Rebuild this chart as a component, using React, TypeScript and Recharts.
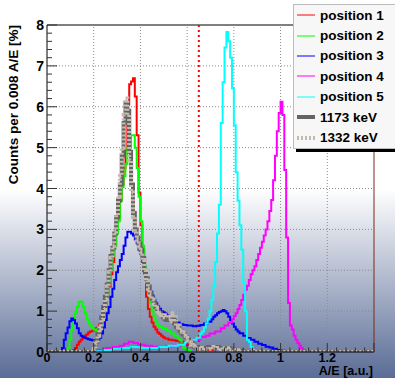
import { LineChart, Line, XAxis, YAxis, ReferenceLine } from 'recharts'

// each entry: [left edge of the A/E bin, counts per 0.008 A/E in %]
type Bin = [number, number]

const pos1: Bin[] = [
  [0, 0], [0.112, 0.05], [0.12, 0.1], [0.128, 0.18], [0.136, 0.25], [0.144, 0.3], [0.152, 0.35],
  [0.16, 0.4], [0.168, 0.43], [0.176, 0.48], [0.184, 0.5], [0.192, 0.52], [0.2, 0.55], [0.208, 0.58],
  [0.216, 0.6], [0.224, 0.68], [0.232, 0.78], [0.24, 0.95], [0.248, 1.1], [0.256, 1.3], [0.264, 1.6],
  [0.272, 1.9], [0.28, 2.2], [0.288, 2.6], [0.296, 3.0], [0.304, 3.3], [0.312, 3.7], [0.32, 4.1],
  [0.328, 4.5], [0.336, 4.95], [0.344, 6.05], [0.352, 6.55], [0.36, 6.62], [0.368, 6.7], [0.376, 6.25],
  [0.384, 5.3], [0.392, 3.9], [0.4, 3.1], [0.408, 2.5], [0.416, 1.92], [0.424, 1.35], [0.432, 1.05],
  [0.44, 0.86], [0.448, 0.72], [0.456, 0.62], [0.464, 0.55], [0.472, 0.48], [0.48, 0.44], [0.488, 0.4],
  [0.496, 0.36], [0.504, 0.33], [0.52, 0.3], [0.536, 0.29], [0.552, 0.27], [0.568, 0.25], [0.584, 0.2],
  [0.6, 0.17], [0.616, 0.15], [0.632, 0.13], [0.648, 0.11], [0.664, 0.09], [0.68, 0.07], [0.696, 0.04],
  [0.712, 0], [1.4, 0],
]

const pos2: Bin[] = [
  [0, 0], [0.088, 0.1], [0.096, 0.3], [0.104, 0.55], [0.112, 0.75], [0.12, 0.95], [0.128, 1.1],
  [0.136, 1.23], [0.144, 1.23], [0.152, 1.1], [0.16, 0.95], [0.168, 0.8], [0.176, 0.7], [0.184, 0.64],
  [0.192, 0.58], [0.2, 0.55], [0.208, 0.53], [0.216, 0.56], [0.224, 0.62], [0.232, 0.72], [0.24, 0.85],
  [0.248, 1.05], [0.256, 1.35], [0.264, 1.7], [0.272, 2.0], [0.28, 2.35], [0.288, 2.6], [0.296, 2.9],
  [0.304, 3.2], [0.312, 3.7], [0.32, 4.03], [0.328, 4.3], [0.336, 4.6], [0.344, 5.0], [0.352, 5.0],
  [0.36, 5.3], [0.368, 5.3], [0.376, 5.0], [0.384, 4.5], [0.392, 3.8], [0.4, 3.2], [0.408, 2.6],
  [0.416, 2.1], [0.424, 1.7], [0.432, 1.45], [0.44, 1.2], [0.448, 1.0], [0.456, 0.86], [0.464, 0.75],
  [0.472, 0.66], [0.48, 0.62], [0.496, 0.56], [0.512, 0.52], [0.528, 0.45], [0.544, 0.4], [0.56, 0.33],
  [0.568, 0.29], [0.576, 0.2], [0.584, 0.1], [0.6, 0.05], [0.616, 0], [1.4, 0],
]

const pos3: Bin[] = [
  [0, 0], [0.064, 0.1], [0.072, 0.3], [0.08, 0.46], [0.088, 0.6], [0.096, 0.75], [0.104, 0.82],
  [0.112, 0.78], [0.12, 0.7], [0.128, 0.58], [0.136, 0.46], [0.144, 0.4], [0.152, 0.37], [0.16, 0.35],
  [0.168, 0.33], [0.176, 0.31], [0.184, 0.3], [0.192, 0.29], [0.216, 0.3], [0.224, 0.35], [0.232, 0.45],
  [0.24, 0.6], [0.248, 0.78], [0.256, 0.95], [0.264, 1.1], [0.272, 1.35], [0.28, 1.55], [0.288, 1.76],
  [0.296, 1.95], [0.304, 2.1], [0.312, 2.25], [0.32, 2.4], [0.328, 2.6], [0.336, 2.8], [0.344, 2.94],
  [0.352, 2.94], [0.36, 2.9], [0.368, 2.85], [0.376, 2.75], [0.384, 2.66], [0.392, 2.5], [0.4, 2.4],
  [0.408, 2.2], [0.416, 2.0], [0.424, 1.8], [0.432, 1.6], [0.44, 1.48], [0.448, 1.38], [0.456, 1.27],
  [0.464, 1.19], [0.472, 1.12], [0.48, 1.06], [0.488, 1.0], [0.496, 0.97], [0.504, 0.94], [0.512, 0.9],
  [0.52, 0.86], [0.528, 0.82], [0.536, 0.78], [0.552, 0.72], [0.568, 0.68], [0.584, 0.66], [0.6, 0.65],
  [0.624, 0.63], [0.64, 0.64], [0.656, 0.66], [0.672, 0.7], [0.688, 0.74], [0.704, 0.8], [0.712, 0.86],
  [0.72, 0.9], [0.728, 0.95], [0.736, 0.98], [0.744, 1.0], [0.752, 1.03], [0.76, 1.0], [0.768, 0.95],
  [0.776, 0.86], [0.784, 0.78], [0.792, 0.7], [0.8, 0.62], [0.808, 0.55], [0.816, 0.5], [0.824, 0.46],
  [0.84, 0.4], [0.856, 0.34], [0.872, 0.3], [0.888, 0.25], [0.904, 0.2], [0.92, 0.17], [0.936, 0.13],
  [0.952, 0.11], [0.968, 0.08], [0.984, 0.05], [1.0, 0.03], [1.016, 0], [1.4, 0],
]

const pos4: Bin[] = [
  [0, 0], [0.2, 0.02], [0.22, 0.05], [0.25, 0.1], [0.28, 0.12], [0.31, 0.15], [0.33, 0.2], [0.35, 0.25],
  [0.37, 0.22], [0.39, 0.18], [0.42, 0.15], [0.45, 0.13], [0.48, 0.12], [0.51, 0.14], [0.54, 0.16],
  [0.57, 0.2], [0.6, 0.25], [0.63, 0.3], [0.656, 0.37], [0.68, 0.4], [0.696, 0.45], [0.72, 0.5],
  [0.744, 0.58], [0.76, 0.65], [0.776, 0.72], [0.792, 0.8], [0.8, 0.88], [0.808, 0.95], [0.816, 1.05],
  [0.824, 1.15], [0.832, 1.27], [0.84, 1.4], [0.848, 1.52], [0.856, 1.62], [0.864, 1.76], [0.872, 1.9],
  [0.88, 2.0], [0.888, 2.1], [0.896, 2.25], [0.904, 2.4], [0.912, 2.55], [0.92, 2.7], [0.928, 2.85],
  [0.936, 3.0], [0.944, 3.2], [0.952, 3.45], [0.96, 3.72], [0.968, 4.2], [0.976, 4.8], [0.984, 5.4],
  [0.992, 5.85], [1.0, 6.12], [1.008, 5.8], [1.016, 4.45], [1.024, 2.8], [1.032, 1.2], [1.04, 0.65],
  [1.048, 0.55], [1.056, 0.4], [1.064, 0.3], [1.072, 0.22], [1.08, 0.15], [1.088, 0.1], [1.096, 0.05],
  [1.104, 0], [1.4, 0],
]

const pos5: Bin[] = [
  [0, 0], [0.2, 0.02], [0.24, 0.05], [0.28, 0.08], [0.32, 0.1], [0.36, 0.12], [0.4, 0.1], [0.44, 0.1],
  [0.48, 0.12], [0.52, 0.15], [0.56, 0.18], [0.59, 0.22], [0.62, 0.3], [0.64, 0.35], [0.656, 0.45],
  [0.664, 0.5], [0.672, 0.6], [0.68, 0.7], [0.688, 0.82], [0.696, 1.0], [0.704, 1.27], [0.712, 1.6],
  [0.72, 2.2], [0.728, 2.9], [0.736, 3.6], [0.744, 5.6], [0.752, 6.6], [0.76, 7.45], [0.768, 7.83],
  [0.776, 7.6], [0.784, 7.2], [0.792, 6.45], [0.8, 5.55], [0.808, 4.4], [0.816, 3.7], [0.824, 3.1],
  [0.832, 2.5], [0.84, 1.7], [0.848, 1.0], [0.856, 0.3], [0.864, 0.25], [0.872, 0.12], [0.88, 0.05],
  [0.888, 0], [1.4, 0],
]

const kev1173: Bin[] = [
  [0, 0], [0.2, 0.1], [0.208, 0.25], [0.216, 0.45], [0.224, 0.6], [0.232, 0.85], [0.24, 1.1],
  [0.248, 1.35], [0.256, 1.65], [0.264, 2.0], [0.272, 2.35], [0.28, 2.55], [0.288, 2.9], [0.296, 3.3],
  [0.304, 3.7], [0.312, 4.1], [0.32, 4.8], [0.328, 5.6], [0.336, 6.1], [0.344, 5.9], [0.352, 4.9],
  [0.36, 4.1], [0.368, 3.4], [0.376, 3.0], [0.384, 2.8], [0.392, 2.65], [0.4, 2.5], [0.408, 2.3],
  [0.416, 2.0], [0.424, 1.8], [0.432, 1.6], [0.44, 1.45], [0.448, 1.3], [0.456, 1.2], [0.464, 1.1],
  [0.472, 1.0], [0.48, 0.95], [0.488, 0.9], [0.496, 0.85], [0.504, 0.8], [0.512, 0.78], [0.52, 0.8],
  [0.528, 0.85], [0.536, 0.8], [0.544, 0.7], [0.552, 0.62], [0.56, 0.58], [0.568, 0.52], [0.576, 0.46],
  [0.584, 0.42], [0.592, 0.36], [0.6, 0.3], [0.608, 0.25], [0.616, 0.2], [0.624, 0.15], [0.632, 0.12],
  [0.64, 0.1], [0.656, 0.08], [0.672, 0.1], [0.688, 0.12], [0.704, 0.1], [0.72, 0.12], [0.736, 0.1],
  [0.752, 0.08], [0.768, 0.1], [0.784, 0.07], [0.8, 0.05], [0.82, 0.03], [0.84, 0], [1.4, 0],
]

const kev1332: Bin[] = [
  [0, 0], [0.2, 0.08], [0.208, 0.2], [0.216, 0.4], [0.224, 0.58], [0.232, 0.8], [0.24, 1.05],
  [0.248, 1.3], [0.256, 1.6], [0.264, 1.95], [0.272, 2.3], [0.28, 2.6], [0.288, 2.95], [0.296, 3.35],
  [0.304, 3.8], [0.312, 4.3], [0.32, 5.0], [0.328, 5.8], [0.336, 6.2], [0.344, 5.8], [0.352, 4.7],
  [0.36, 3.9], [0.368, 3.3], [0.376, 2.95], [0.384, 2.75], [0.392, 2.6], [0.4, 2.45], [0.408, 2.25],
  [0.416, 2.0], [0.424, 1.75], [0.432, 1.55], [0.44, 1.4], [0.448, 1.28], [0.456, 1.18], [0.464, 1.08],
  [0.472, 1.0], [0.48, 0.95], [0.488, 0.9], [0.496, 0.88], [0.504, 0.85], [0.512, 0.9], [0.52, 0.8],
  [0.528, 0.95], [0.536, 0.75], [0.544, 0.9], [0.552, 0.6], [0.56, 0.65], [0.568, 0.5], [0.576, 0.48],
  [0.584, 0.4], [0.592, 0.35], [0.6, 0.28], [0.608, 0.24], [0.616, 0.18], [0.624, 0.14], [0.632, 0.1],
  [0.648, 0.08], [0.664, 0.1], [0.68, 0.08], [0.696, 0.12], [0.712, 0.08], [0.728, 0.1], [0.744, 0.07],
  [0.76, 0.09], [0.776, 0.05], [0.8, 0.04], [0.82, 0], [1.4, 0],
]

const xMajor = [0, 0.2, 0.4, 0.6, 0.8, 1, 1.2, 1.4]
const xLabelled = [0, 0.2, 0.4, 0.6, 0.8, 1, 1.2]
const yMajor = [0, 1, 2, 3, 4, 5, 6, 7, 8]
const cutValue = 0.65

const series = [
  { name: 'position 1', data: pos1, color: '#ff0000', width: 2, legendWidth: 1 },
  { name: 'position 2', data: pos2, color: '#00ff00', width: 2, legendWidth: 1 },
  { name: 'position 3', data: pos3, color: '#0000ff', width: 2, legendWidth: 1 },
  { name: 'position 4', data: pos4, color: '#ff00ff', width: 2, legendWidth: 1 },
  { name: 'position 5', data: pos5, color: '#00ffff', width: 2, legendWidth: 1 },
  { name: '1173 keV', data: kev1173, color: '#646464', width: 4, legendWidth: 4 },
  { name: '1332 keV', data: kev1332, color: '#c6baae', width: 4, legendWidth: 4, dash: '2 2' },
]

const font = '"Liberation Sans", Arial, Helvetica, sans-serif'

// minor ticks: 5 subdivisions per major interval
const subdivide = (major: number[]) =>
  major.flatMap((v, i) => {
    if (i === major.length - 1) return [v]
    const step = (major[i + 1] - v) / 5
    return [0, 1, 2, 3, 4].map((k) => +(v + k * step).toFixed(4))
  })

const xTicks = subdivide(xMajor)
const yTicks = subdivide(yMajor)

const toRows = (bins: Bin[]) => bins.map(([x, y]) => ({ x, y }))

// ROOT style ticks point into the frame
function XTick(props: any) {
  const { x, y, payload } = props
  const v = payload.value
  const major = xMajor.includes(v)
  return (
    <g>
      <line x1={x} x2={x} y1={y} y2={y - (major ? 9 : 4.5)} stroke="#333" strokeWidth={1} />
      {xLabelled.includes(v) && (
        <text x={x} y={y + 10} textAnchor="middle" fontSize={12.5} fontWeight="bold" fontFamily={font} fill="#000">
          {String(v)}
        </text>
      )}
    </g>
  )
}

function YTick(props: any) {
  const { x, y, payload } = props
  const v = payload.value
  const major = yMajor.includes(v)
  return (
    <g>
      <line x1={x} x2={x + (major ? 10 : 5)} y1={y} y2={y} stroke="#333" strokeWidth={1} />
      {major && (
        <text x={x - 3} y={y + 5} textAnchor="end" fontSize={14} fontWeight="bold" fontFamily={font} fill="#000">
          {String(v)}
        </text>
      )}
    </g>
  )
}

function HistLegend() {
  return (
    <div
      style={{
        position: 'absolute',
        left: 293,
        top: 4,
        width: 112,
        height: 145,
        boxSizing: 'border-box',
        background: '#f7f7f7',
        border: '1px solid #bdbdbd',
        boxShadow: '3px 3px 0 #000',
        fontFamily: font,
      }}
    >
      {series.map((s) => (
        <div key={s.name} style={{ height: 20.4, display: 'flex', alignItems: 'center' }}>
          <svg width={22} height={8} style={{ marginLeft: 2 }}>
            <line
              x1={1}
              x2={19}
              y1={4}
              y2={4}
              stroke={s.color}
              strokeWidth={s.legendWidth}
              strokeDasharray={s.dash}
            />
          </svg>
          <span style={{ marginLeft: 2, fontSize: 13.5, fontWeight: 'bold', color: '#000', whiteSpace: 'nowrap' }}>
            {s.name}
          </span>
        </div>
      ))}
    </div>
  )
}

export default function App() {
  return (
    <div
      style={{
        position: 'absolute',
        left: 0,
        top: 0,
        width: 395,
        height: 378,
        overflow: 'hidden',
        background: 'linear-gradient(to bottom, #ffffff 0%, #ffffff 50%, #5a6c96 100%)',
      }}
    >
      <LineChart width={395} height={378} margin={{ top: 25, right: 21, bottom: 6, left: 7 }}>
        <XAxis
          type="number"
          dataKey="x"
          domain={[0, 1.4]}
          ticks={xTicks}
          interval={0}
          allowDataOverflow
          height={20}
          tickLine={false}
          tickSize={0}
          tickMargin={0}
          tick={XTick}
          axisLine={{ stroke: '#000' }}
        />
        <YAxis
          type="number"
          domain={[0, 8]}
          ticks={yTicks}
          interval={0}
          allowDataOverflow
          width={40}
          tickLine={false}
          tickSize={0}
          tickMargin={0}
          tick={YTick}
          axisLine={{ stroke: '#000' }}
        />
        {xMajor.slice(1, -1).map((v) => (
          <ReferenceLine key={`gx${v}`} x={v} stroke="#8a8a8a" strokeDasharray="1 2" />
        ))}
        {yMajor.slice(1, -1).map((v) => (
          <ReferenceLine key={`gy${v}`} y={v} stroke="#8a8a8a" strokeDasharray="1 2" />
        ))}
        <ReferenceLine y={8} stroke="#000" />
        <ReferenceLine x={1.4} stroke="#7a2a1a" />
        <ReferenceLine x={cutValue} stroke="#ff0000" strokeWidth={2} strokeDasharray="2 3" />
        {series.map((s) => (
          <Line
            key={s.name}
            name={s.name}
            data={toRows(s.data)}
            dataKey="y"
            type="stepAfter"
            stroke={s.color}
            strokeWidth={s.width}
            strokeDasharray={s.dash}
            dot={false}
            activeDot={false}
            isAnimationActive={false}
          />
        ))}
      </LineChart>
      <svg width={395} height={378} style={{ position: 'absolute', left: 0, top: 0, pointerEvents: 'none' }}>
        <text
          transform="translate(18,25) rotate(-90)"
          textAnchor="end"
          fontSize={13.5}
          fontWeight="bold"
          fontFamily={font}
          fill="#000"
        >
          Counts per 0.008 A/E [%]
        </text>
        <text x={373} y={374.5} textAnchor="end" fontSize={12.5} fontWeight="bold" fontFamily={font} fill="#000">
          A/E [a.u.]
        </text>
      </svg>
      <HistLegend />
    </div>
  )
}
